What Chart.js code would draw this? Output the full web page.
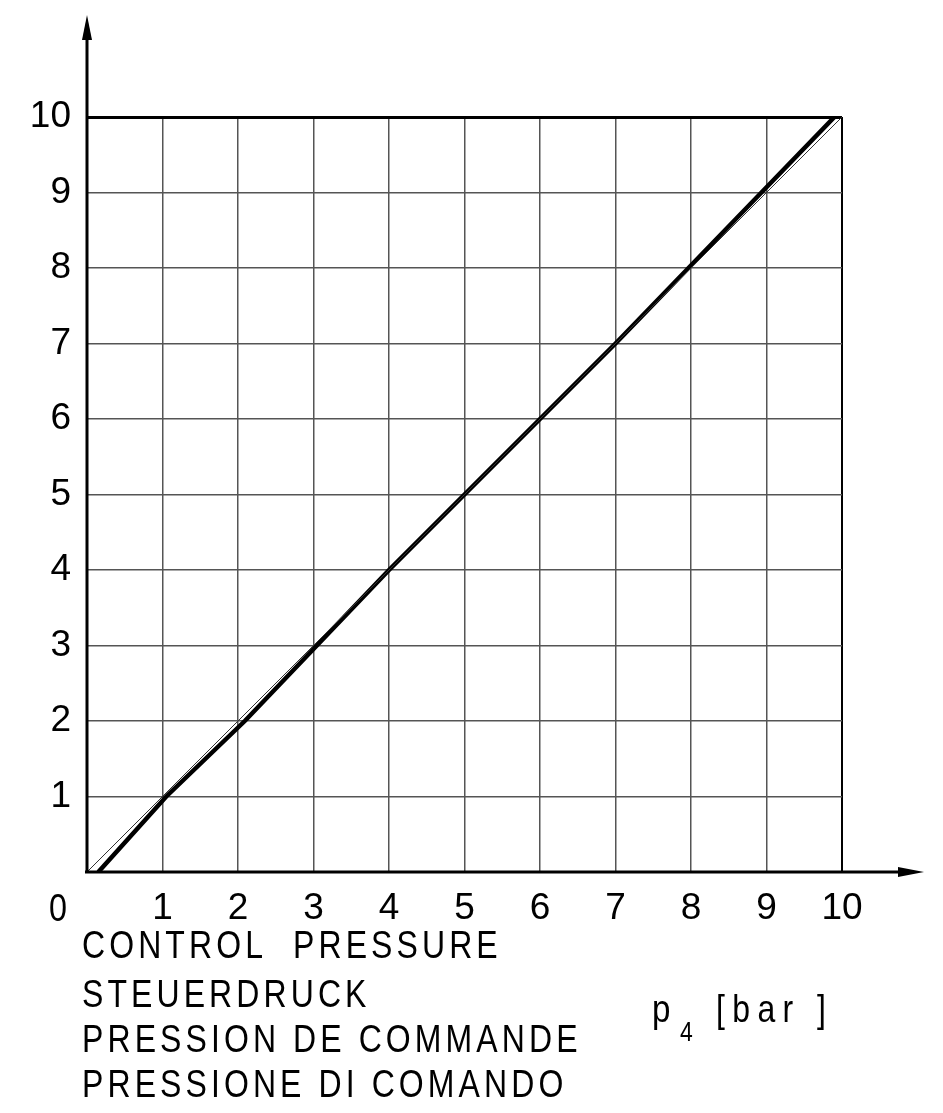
<!DOCTYPE html>
<html>
<head>
<meta charset="utf-8">
<script src="https://cdn.jsdelivr.net/npm/chart.js@4"></script>
<style>
  html, body { margin: 0; padding: 0; background: #fff; }
  #wrap { width: 943px; height: 1113px; position: relative; }
</style>
</head>
<body>
<div id="wrap"><canvas id="pressureChart"></canvas></div>
<script>
"use strict";

// reference line p = p4
var idealX = [0, 10];
var idealY = [0, 10];
// measured characteristic
var curveX = [0.15, 1.05, 2.09, 4, 7, 9.9];
var curveY = [0, 1, 2, 4, 7, 10];
var tickValues = [1, 2, 3, 4, 5, 6, 7, 8, 9, 10];
var axisTitle = ["CONTROL  PRESSURE", "STEUERDRUCK", "PRESSION DE COMMANDE", "PRESSIONE DI COMANDO"];

var FONT = "'Liberation Sans', Arial, sans-serif";

function toPoints(xs, ys) {
  return xs.map(function (x, i) {
    return { x: x, y: ys[i] };
  });
}

// narrow drawing-style lettering
function drawText(ctx, text, x, y, size, sx, spacing) {
  ctx.save();
  ctx.translate(x, y);
  ctx.scale(sx, 1);
  ctx.font = size + "px " + FONT;
  ctx.letterSpacing = spacing + "px";
  ctx.fillText(text, 0, 0);
  ctx.restore();
}

var axesPlugin = {
  id: "axesPlugin",
  afterDraw: function (chart) {
    var ctx = chart.ctx;
    var area = chart.chartArea;
    ctx.save();
    ctx.strokeStyle = "#000";
    ctx.fillStyle = "#000";
    ctx.lineWidth = 3;
    // axes with arrows
    ctx.beginPath();
    ctx.moveTo(area.left, area.bottom);
    ctx.lineTo(area.left, 38);
    ctx.moveTo(area.left - 2, area.bottom);
    ctx.lineTo(900, area.bottom);
    ctx.stroke();
    ctx.beginPath();
    ctx.moveTo(area.left, 15);
    ctx.lineTo(area.left - 5, 40);
    ctx.lineTo(area.left + 5, 40);
    ctx.closePath();
    ctx.fill();
    ctx.beginPath();
    ctx.moveTo(924, area.bottom);
    ctx.lineTo(898, area.bottom - 5);
    ctx.lineTo(898, area.bottom + 5);
    ctx.closePath();
    ctx.fill();

    ctx.textAlign = "left";
    ctx.textBaseline = "alphabetic";
    // origin label
    drawText(ctx, "0", 49, 921, 38, 0.85, 0);

    // axis title
    var baselines = [958, 1007, 1052, 1097];
    axisTitle.forEach(function (t, i) {
      drawText(ctx, t, 82, baselines[i], 39, 0.82, 5);
    });
    drawText(ctx, "p", 652, 1022, 39, 0.85, 0);
    drawText(ctx, "4", 680, 1041, 27, 0.85, 0);
    drawText(ctx, "[bar ]", 716, 1022, 39, 0.82, 9);
    ctx.restore();
  },
};

new Chart(document.getElementById("pressureChart"), {
  type: "scatter",
  data: {
    datasets: [
      {
        data: toPoints(idealX, idealY),
        showLine: true,
        borderColor: "#333",
        borderWidth: 1,
        pointRadius: 0,
      },
      {
        data: toPoints(curveX, curveY),
        showLine: true,
        borderColor: "#000",
        borderWidth: 4.5,
        pointRadius: 0,
      },
    ],
  },
  options: {
    responsive: true,
    maintainAspectRatio: false,
    devicePixelRatio: 1,
    animation: false,
    layout: { padding: { top: 117, right: 101, left: 0, bottom: 0 } },
    plugins: {
      legend: { display: false },
      tooltip: { enabled: false },
    },
    scales: {
      x: {
        type: "linear",
        min: 0,
        max: 10,
        afterFit: function (scale) {
          scale.height = 241;
        },
        afterBuildTicks: function (scale) {
          scale.ticks = [0].concat(tickValues).map(function (v) {
            return { value: v };
          });
        },
        ticks: {
          color: "#000",
          padding: 15,
          font: { family: FONT, size: 37 },
          callback: function (v) {
            return v === 0 ? "" : String(v);
          },
        },
        grid: {
          drawTicks: false,
          color: function (c) {
            return c.tick && c.tick.value === 10 ? "#000" : "#555";
          },
          lineWidth: function (c) {
            return c.tick && c.tick.value === 10 ? 2 : 1.5;
          },
        },
        border: { display: false },
      },
      y: {
        type: "linear",
        min: 0,
        max: 10,
        afterFit: function (scale) {
          scale.width = 87;
        },
        afterBuildTicks: function (scale) {
          scale.ticks = [0].concat(tickValues).map(function (v) {
            return { value: v };
          });
        },
        ticks: {
          color: "#000",
          padding: 16,
          font: { family: FONT, size: 37 },
          callback: function (v) {
            return v === 0 ? "" : String(v);
          },
        },
        grid: {
          drawTicks: false,
          color: function (c) {
            return c.tick && c.tick.value === 10 ? "#000" : "#555";
          },
          lineWidth: function (c) {
            return c.tick && c.tick.value === 10 ? 3 : 1.5;
          },
        },
        border: { display: false },
      },
    },
  },
  plugins: [axesPlugin],
});
</script>
</body>
</html>
